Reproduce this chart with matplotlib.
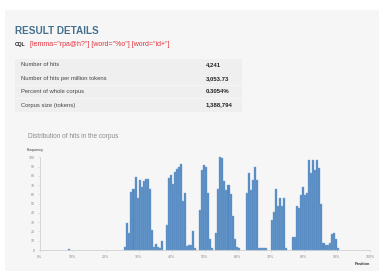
import numpy as np
import matplotlib as mpl
import matplotlib.pyplot as plt
from matplotlib.patches import Rectangle

mpl.rcParams.update({'font.family': ['Liberation Sans', 'DejaVu Sans']})

W, H = 379, 271

# ---- data ----
query_text = '[lemma="rpa@h?"] [word="%o"] [word="id+"]'
row_labels = ['Number of hits', 'Number of hits per million tokens',
              'Percent of whole corpus', 'Corpus size (tokens)']
row_values = ['4,241', '3,053.73', '0.3054%', '1,388,794']

n_bins = 160  # histogram bins over 0-100 %
# (start bin, frequencies) for each block of hits
c0 = (14, [1])
c1 = (41, [3, 29, 18, 63, 66, 79, 56, 75, 68, 74, 77, 77, 66, 22, 3, 6, 3, 2, 10])
c2 = (61, [27, 78, 81, 71, 84, 87, 90, 93, 53, 61, 4, 5, 5, 20, 2])
c3 = (77, [43, 86, 92, 90, 61, 12, 2])
c4 = (85, [18, 66, 100, 99, 74, 65, 70, 60, 37, 12, 3, 2])
c5 = (100, [61, 83, 65, 76, 89, 76, 2, 2, 2, 2])
c6 = (112, [32, 41, 66, 48, 56, 48, 56, 2])
c7 = (122, [14, 14, 48, 45, 59, 68, 59, 62, 97, 83, 97, 86, 97, 88, 50, 8, 5, 5, 8, 17, 18, 12, 2])
clusters = [c0, c1, c2, c3, c4, c5, c6, c7]

y_ticks = list(range(0, 101, 10))
x_ticks = list(range(0, 101, 10))

counts = np.zeros(n_bins)
for start, vals in clusters:
    counts[start:start + len(vals)] = vals
bw = 100 / n_bins
lefts = np.arange(n_bins) * bw
nz = counts > 0

def fx(x): return x / W
def fy(y): return 1 - y / H

fig = plt.figure(figsize=(W / 100, H / 100), dpi=100, facecolor='white')
fig.patches.append(Rectangle((fx(5), 0), 1 - fx(5), fy(10), transform=fig.transFigure,
                             facecolor='#f6f6f6', edgecolor='none', zorder=-5))

# header
fig.text(fx(15), fy(31.5), 'RESULT DETAILS', fontsize=7.2, color='#46708f', va='center', ha='left',
         fontweight='bold')
fig.text(fx(15), fy(44.5), 'CQL', fontsize=3.6, color='#222222', va='center', ha='left', fontweight='bold')
fig.text(fx(30.5), fy(44.5), query_text, fontsize=5.0, color='#e2323c', va='center', ha='left')

# table
top, rh = 58.3, 13.35
for i, (lab, val) in enumerate(zip(row_labels, row_values)):
    y0 = top + i * rh
    fig.patches.append(Rectangle((fx(15), fy(y0 + rh)), fx(242) - fx(15), (rh - 0.8) / H,
                                 transform=fig.transFigure, facecolor='#efefef', edgecolor='none'))
    fig.text(fx(21), fy(y0 + rh / 2), lab, fontsize=4.2, color='#444444', va='center', ha='left')
    fig.text(fx(205.5), fy(y0 + rh / 2), val, fontsize=4.3, color='#222222', va='center', ha='left',
             fontweight='bold')

fig.text(fx(28), fy(137), 'Distribution of hits in the corpus', fontsize=4.7, color='#8a8a8a',
         va='center', ha='left')

# histogram
ax = fig.add_axes([fx(39.5), 21 / H, (370 - 39.5) / W, 92.7 / H])
ax.set_facecolor('none')
ax.bar(lefts[nz], counts[nz], width=bw, align='edge', color='#5087c0', edgecolor='#7fa6d0',
       linewidth=0.3, clip_on=False, zorder=3)
ax.set_xlim(0, 100)
ax.set_ylim(0, 100)
for s in ['top', 'right']:
    ax.spines[s].set_visible(False)
for s in ['left', 'bottom']:
    ax.spines[s].set_color('#d0d0d0')
    ax.spines[s].set_linewidth(0.6)
ax.set_xticks(x_ticks)
ax.set_xticklabels([f'{t}%' for t in x_ticks])
ax.set_yticks(y_ticks)
ax.tick_params(labelsize=2.6, colors='#d0d0d0', labelcolor='#888888', length=1.5, width=0.4, pad=2)
fig.text(fx(27), fy(150.5), 'Frequency', fontsize=2.6, color='#333333', va='center', ha='left')
fig.text(fx(362), fy(264), 'Position', fontsize=2.8, color='#333333', va='center', ha='center',
         fontweight='bold')

fig.savefig('out.png', dpi=100, facecolor=fig.get_facecolor())
